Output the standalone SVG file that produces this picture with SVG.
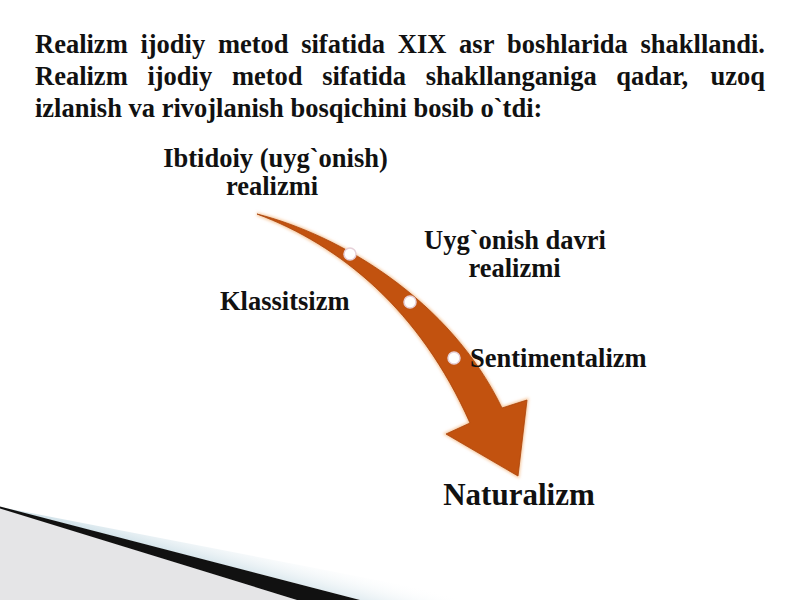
<svg xmlns="http://www.w3.org/2000/svg" width="800" height="600" viewBox="0 0 800 600">
<defs>
<style>
text{font-family:"Liberation Serif","Times New Roman",serif;font-weight:bold;fill:#111;}
.t{font-size:26.5px;}
.lbl{font-size:26.5px;}
.big{font-size:31px;}
.dot{fill:#fff;stroke:#e6d0d8;stroke-width:1.5;}
</style>
<linearGradient id="band" gradientUnits="userSpaceOnUse" x1="300" y1="590" x2="310" y2="555">
<stop offset="0" stop-color="#d3e3ea"/>
<stop offset="1" stop-color="#ffffff" stop-opacity="0"/>
</linearGradient>
<filter id="glow" x="-10%" y="-10%" width="120%" height="120%">
<feGaussianBlur stdDeviation="1.5"/>
</filter>
</defs>
<rect width="800" height="600" fill="#fff"/>
<g id="decor">
<polygon points="0,507 480,600 360,600" fill="url(#band)"/>
<polygon points="0,508 297,600 0,600" fill="#e5e5e7"/>
<polygon points="0,506.5 360,600 297,600 0,508.5" fill="#111"/>
</g>
<g id="title" class="t">
<text y="53"><tspan x="35">Realizm</tspan><tspan x="140.4">ijodiy</tspan><tspan x="217.9">metod</tspan><tspan x="301.2">sifatida</tspan><tspan x="397.8">XIX</tspan><tspan x="459.1">asr</tspan><tspan x="507.1">boshlarida</tspan></text>
<text x="765" y="53" text-anchor="end">shakllandi.</text>
<text y="85"><tspan x="35">Realizm</tspan><tspan x="147.4">ijodiy</tspan><tspan x="231.9">metod</tspan><tspan x="322.2">sifatida</tspan><tspan x="425.8">shakllanganiga</tspan><tspan x="616.3">qadar,</tspan></text>
<text x="765" y="85" text-anchor="end">uzoq</text>
<text x="35" y="117">izlanish va rivojlanish bosqichini bosib o`tdi:</text>
</g>
<g id="connectors">
<path d="M257,214 C340,235 450,300 502,408 L527,400 L518,476 L446,434 L470,423 C420,310 340,245 257,214 Z" fill="#f3b27a" stroke="#f6c79c" stroke-width="3" filter="url(#glow)"/>
<path d="M257,214 C340,235 450,300 502,408 L527,400 L518,476 L446,434 L470,423 C420,310 340,245 257,214 Z" fill="#c2520f" stroke="#a9440b" stroke-width="0.8"/>
<circle class="dot" cx="350" cy="254" r="6"/>
<circle class="dot" cx="410" cy="302" r="6"/>
<circle class="dot" cx="454" cy="358" r="6"/>
</g>
<g id="node-ibtidoiy" class="lbl">
<text x="275.5" y="167" text-anchor="middle">Ibtidoiy (uyg`onish)</text>
<text x="272" y="195" text-anchor="middle">realizmi</text>
</g>
<g id="node-uygonish" class="lbl">
<text x="515" y="249" text-anchor="middle">Uyg`onish davri</text>
<text x="514.5" y="277" text-anchor="middle">realizmi</text>
</g>
<g id="node-klassitsizm" class="lbl">
<text x="220" y="310">Klassitsizm</text>
</g>
<g id="node-sentimentalizm" class="lbl">
<text x="470" y="367">Sentimentalizm</text>
</g>
<g id="node-naturalizm" class="big">
<text x="519" y="505" text-anchor="middle">Naturalizm</text>
</g>
</svg>
